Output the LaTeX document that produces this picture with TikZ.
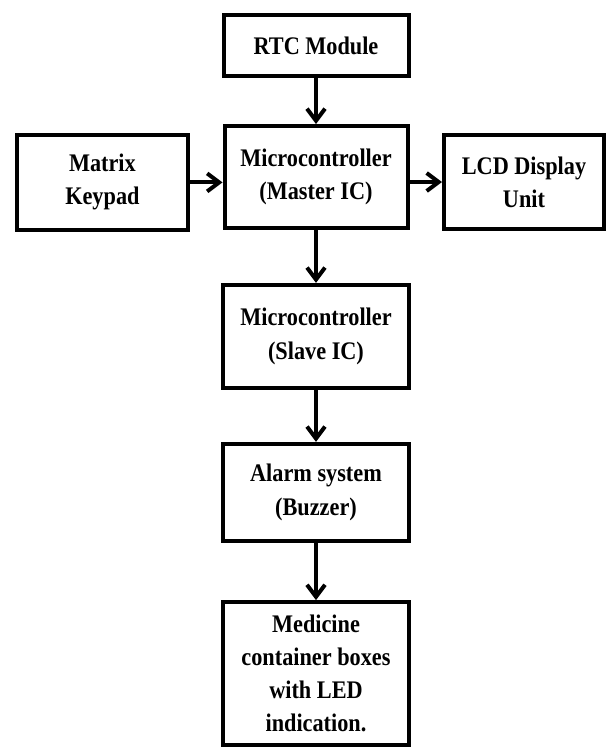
\documentclass[tikz,border=0pt]{standalone}
\usepackage{fontspec}
\setmainfont{Liberation Serif}[FakeStretch=0.88]
\usetikzlibrary{arrows.meta}

\tikzset{
	block/.style={draw,line width=1mm,align=center,inner sep=2pt,
		font=\fontsize{18}{23.5}\selectfont\bfseries},
	flow/.style={line width=1mm,-{Straight Barb[length=3mm,width=4.5mm]}}
}

\begin{document}
\begin{tikzpicture}
			\useasboundingbox (0,0) rectangle (15.225,-18.725);
			\node[block,minimum width=4.625cm,minimum height=1.525cm](rtc)at(7.9,-1.14) {RTC Module};
			\node[block,minimum width=4.275cm,minimum height=2.375cm](kp)at(2.56,-4.56) {Matrix\\Keypad};
			\node[block,minimum width=4.575cm,minimum height=2.55cm](mc)at(7.9,-4.425) {Microcontroller\\(Master IC)};
			\node[block,minimum width=4cm,minimum height=2.35cm](lcd)at(13.1,-4.55) {LCD Display\\Unit};
			\node[block,minimum width=4.65cm,minimum height=2.575cm](sl)at(7.9,-8.41) {Microcontroller\\(Slave IC)};
			\node[block,minimum width=4.65cm,minimum height=2.425cm](al)at(7.9,-12.31) {Alarm system\\(Buzzer)};
			\node[block,minimum width=4.65cm,minimum height=3.575cm](box)at(7.9,-16.84) {Medicine\\container boxes\\with LED\\indication.};
			
			\draw[flow](rtc) -- (mc);
			\draw[flow](kp.east) -- (kp.east -| mc.west);
			\draw[flow](lcd.west -| mc.east) -- (lcd.west);
			\draw[flow](mc) -- (sl);
			\draw[flow](sl) -- (al);
			\draw[flow](al) -- (box);
		\end{tikzpicture}
\end{document}
